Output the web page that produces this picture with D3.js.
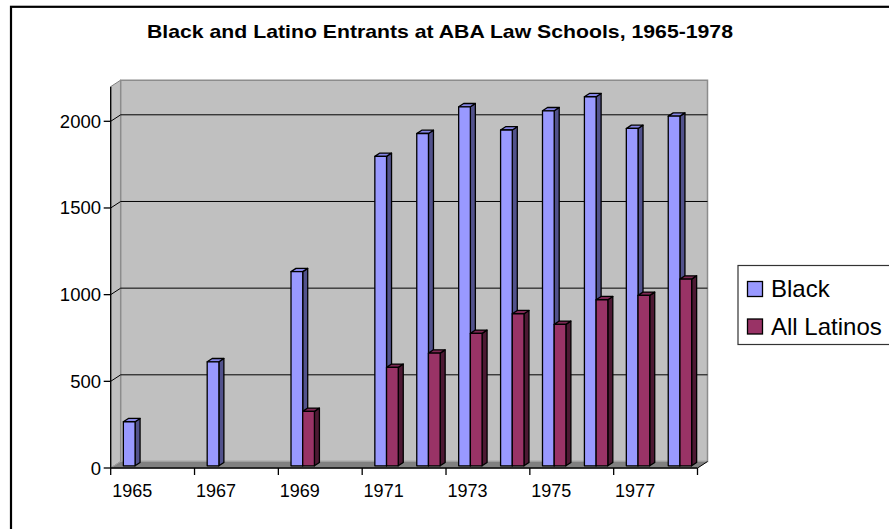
<!DOCTYPE html>
<html>
<head>
<meta charset="utf-8">
<script src="https://cdn.jsdelivr.net/npm/d3@7"></script>
<style>
  html, body { margin: 0; padding: 0; background: #fff; }
  svg { display: block; font-family: "Liberation Sans", Arial, sans-serif; }
</style>
</head>
<body>
<svg id="chart" width="889" height="529"></svg>
<script>
const years = ["1965","1966","1967","1968","1969","1970","1971","1972","1973","1974","1975","1976","1977","1978"];
const blackValues = [254, null, 600, null, 1120, null, 1785, 1917, 2071, 1937, 2048, 2129, 1946, 2017];
const latinoValues = [null, null, null, null, 314, null, 568, 650, 764, 877, 816, 958, 983, 1077];
const yTicks = [0, 500, 1000, 1500, 2000];
const xLabelYears = ["1965","1967","1969","1971","1973","1975","1977"];
const seriesNames = ["Black", "All Latinos"];
const title = "Black and Latino Entrants  at ABA Law Schools, 1965-1978";

const svg = d3.select("#chart");

// frame
svg.append("rect").attr("x", 11).attr("y", 6.8).attr("width", 900).attr("height", 560)
  .attr("fill", "#fff").attr("stroke", "#000").attr("stroke-width", 2.2);

// title
svg.append("text").attr("x", 440).attr("y", 38).attr("text-anchor", "middle")
  .attr("font-weight", "bold").attr("font-size", 19)
  .attr("textLength", 586).attr("lengthAdjust", "spacingAndGlyphs")
  .text(title);

const left = 110.7, right = 697.5, base = 468;
const DX = 10, DY = -6.5;
const x = d3.scaleBand().domain(years).range([left, right]).paddingInner(0).paddingOuter(0);
const y = d3.scaleLinear().domain([0, 2200]).range([base, base - 2200 * 0.17335]);
const yTop = y(2200);
const pts = a => a.map(p => p.join(",")).join(" ");

// side wall
svg.append("polygon")
  .attr("points", pts([[left, yTop], [left + DX, yTop + DY], [left + DX, base + DY], [left, base]]))
  .attr("fill", "#c0c0c0").attr("stroke", "#808080").attr("stroke-width", 1);
// back wall
svg.append("polygon")
  .attr("points", pts([[left + DX, yTop + DY], [right + DX, yTop + DY], [right + DX, base + DY], [left + DX, base + DY]]))
  .attr("fill", "#c0c0c0").attr("stroke", "#8c8c8c").attr("stroke-width", 1.5);
// floor
svg.append("polygon")
  .attr("points", pts([[left, base], [right, base], [right + DX, base + DY], [left + DX, base + DY]]))
  .attr("fill", "#808080").attr("stroke", "#a0a0a0").attr("stroke-width", 1);

// gridlines
yTicks.filter(v => v > 0).forEach(v => {
  svg.append("line").attr("x1", left + DX).attr("x2", right + DX)
    .attr("y1", y(v) + DY).attr("y2", y(v) + DY).attr("stroke", "#000").attr("stroke-width", 1);
  svg.append("line").attr("x1", left).attr("x2", left + DX)
    .attr("y1", y(v)).attr("y2", y(v) + DY).attr("stroke", "#000").attr("stroke-width", 1);
});

// bars
const bw = 11.7;
const gap = (x.bandwidth() - 2 * bw) / 2;
const fx = 3.4, fy = -2.2;   // front face depth offset
const bdx = 5, bdy = -3.3;   // bar depth
const styles = [
  { front: "#9999ff", top: "#8585e6", side: "#52528c" },
  { front: "#993366", top: "#7d2853", side: "#4d1933" }
];
function drawBar(x0, v, st) {
  const x1 = x0 + bw;
  const yt = y(v) + fy, yb = base + fy;
  const g = svg.append("g").attr("stroke", "#000").attr("stroke-width", 1.3).attr("stroke-linejoin", "round");
  g.append("polygon").attr("points", pts([[x1, yt], [x1 + bdx, yt + bdy], [x1 + bdx, yb + bdy], [x1, yb]]))
    .attr("fill", st.side);
  g.append("polygon").attr("points", pts([[x0, yt], [x0 + bdx, yt + bdy], [x1 + bdx, yt + bdy], [x1, yt]]))
    .attr("fill", st.top);
  g.append("rect").attr("x", x0).attr("y", yt).attr("width", bw).attr("height", yb - yt).attr("fill", st.front);
}
years.forEach((yr, i) => {
  const x0 = x(yr) + gap + fx;
  if (blackValues[i] != null) drawBar(x0, blackValues[i], styles[0]);
  if (latinoValues[i] != null) drawBar(x0 + bw, latinoValues[i], styles[1]);
});

// axes lines
svg.append("line").attr("x1", left).attr("x2", left).attr("y1", yTop).attr("y2", base).attr("stroke", "#000").attr("stroke-width", 1.3);
svg.append("line").attr("x1", left).attr("x2", right).attr("y1", base).attr("y2", base).attr("stroke", "#000").attr("stroke-width", 1.3);
svg.append("line").attr("x1", right).attr("x2", right + DX).attr("y1", base).attr("y2", base + DY).attr("stroke", "#000").attr("stroke-width", 1);

// y ticks and labels
yTicks.forEach(v => {
  svg.append("line").attr("x1", left - 7).attr("x2", left).attr("y1", y(v)).attr("y2", y(v)).attr("stroke", "#000").attr("stroke-width", 1.3);
  svg.append("text").attr("x", 101).attr("y", y(v) + 6.5).attr("text-anchor", "end")
    .attr("font-size", 18.5).text(v);
});

// x ticks
for (let k = 0; k <= years.length; k += 2) {
  const xx = left + k * x.bandwidth();
  svg.append("line").attr("x1", xx).attr("x2", xx).attr("y1", base).attr("y2", base + 7).attr("stroke", "#000").attr("stroke-width", 1.3);
}
xLabelYears.forEach(yr => {
  svg.append("text").attr("x", x(yr) + x.bandwidth() / 2 + 0.5).attr("y", 497).attr("text-anchor", "middle")
    .attr("font-size", 18).text(yr);
});

// legend
svg.append("rect").attr("x", 738).attr("y", 265.5).attr("width", 200).attr("height", 79)
  .attr("fill", "#fff").attr("stroke", "#333").attr("stroke-width", 1.2);
seriesNames.forEach((name, i) => {
  const yy = 281.5 + i * 37.5;
  svg.append("rect").attr("x", 747.5).attr("y", yy).attr("width", 15).attr("height", 15)
    .attr("fill", styles[i].front).attr("stroke", "#000").attr("stroke-width", 1.3);
  svg.append("text").attr("x", 771).attr("y", yy + 15.5).attr("font-size", 24).text(name);
});
</script>
</body>
</html>
